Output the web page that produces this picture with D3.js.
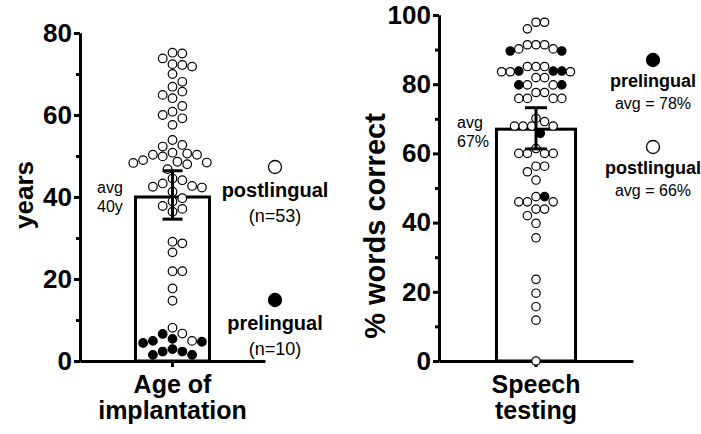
<!DOCTYPE html>
<html>
<head>
<meta charset="utf-8">
<script src="https://cdn.jsdelivr.net/npm/d3@7"></script>
<style>
  body { margin: 0; background: #fff; }
  svg { font-family: "Liberation Sans", Arial, Helvetica, sans-serif; }
  .axis path, .axis line { stroke: #000; stroke-width: 3; }
  .axis text { font-size: 26px; font-weight: bold; fill: #000; }
</style>
</head>
<body>
<div class="chart"></div>
<script>
// ---- data ----
var ageCategory = ["Age of implantation"];
var ageTicks = [0, 20, 40, 60, 80];
var ageMinorTicks = [10, 30, 50, 70];
var agePost = [75.2, 75.0, 73.8, 72.4, 72.2, 71.8, 70.0, 68.1, 66.9, 65.7, 64.9, 64.1, 62.2, 60.8, 60.0, 59.2, 57.6,
    53.9, 52.3, 52.7, 50.8, 50.6, 50.3, 50.3, 49.9, 49.0, 48.4, 48.3, 48.6, 48.0, 46.8,
    43.3, 44.5, 42.7, 44.1, 42.5, 42.3, 41.3, 39.7, 38.9, 37.8, 37.1, 36.4,
    29.1, 28.7, 26.5, 21.9, 21.9, 17.7, 14.7, 8.1, 6.7, 4.9];
var agePre = [6.6, 5.4, 4.4, 4.9, 4.7, 2.9, 2.3, 2.3, 1.5, 1.5];
var ageMean = [40];
var ageErr = [34.6, 46.4];

var speechCategory = ["Speech testing"];
var speechTicks = [0, 20, 40, 60, 80, 100];
var speechMinorTicks = [10, 30, 50, 70, 90];
var speechPost = [97.9, 97.9, 96.0, 90.2, 91.4, 91.4, 91.4, 90.2,
    83.6, 83.6, 83.6, 85.1, 85.1, 85.1, 81.9, 81.9, 79.8, 79.8, 77.6, 77.6,
    75.9, 75.9, 75.9, 75.9, 70.1, 69.2, 67.9, 67.9, 67.9, 67.9,
    60.0, 60.0, 60.0, 60.0, 61.4, 56.3, 56.3, 54.7, 52.3,
    47.5, 46.0, 46.0, 46.0, 43.9, 43.9, 42.0, 39.8,
    35.6, 23.6, 19.6, 15.7, 11.8, 0];
var speechPre = [89.6, 89.6, 83.8, 83.8, 83.8, 79.8, 79.8, 65.8, 47.5];
var speechMean = [67];
var speechErr = [61.3, 73.2];

var width = 701, height = 434;

var svg = d3.select(".chart")
    .append("svg")
    .attr("width", width)
    .attr("height", height);

// simple beeswarm: put each point at the nearest free half-step column
function swarm(post, pre, y, center, minDist) {
    var pts = post.map(v => ({ v: v, pre: false })).concat(pre.map(v => ({ v: v, pre: true })));
    pts.sort((a, b) => b.v - a.v);
    var placed = [];
    var step = minDist / 2;
    pts.forEach(d => {
        var py = y(d.v);
        for (var k = 0; k < 60; k++) {
            var off = k === 0 ? 0 : Math.ceil(k / 2) * step * (k % 2 ? 1 : -1);
            var px = center + off;
            var free = placed.every(p => (p.x - px) * (p.x - px) + (p.y - py) * (p.y - py) >= minDist * minDist - 0.01);
            if (free) { placed.push({ x: px, y: py, pre: d.pre }); break; }
        }
    });
    return placed;
}

function panel(opt) {
    var g = svg.append("g");

    var y = d3.scaleLinear().domain([0, opt.ticks[opt.ticks.length - 1]]).range(opt.yRange);
    var x = d3.scaleBand().domain(opt.category).range(opt.xRange).padding(opt.pad);
    var cx = x(opt.category[0]) + x.bandwidth() / 2;

    // y axis, major and minor ticks
    g.append("g").attr("class", "axis")
        .attr("transform", "translate(" + opt.xRange[0] + ",0)")
        .call(d3.axisLeft(y).tickValues(opt.ticks).tickSize(6).tickSizeOuter(0).tickPadding(2));
    g.append("g").attr("class", "axis")
        .attr("transform", "translate(" + opt.xRange[0] + ",0)")
        .call(d3.axisLeft(y).tickValues(opt.minor).tickSize(4).tickSizeOuter(0).tickFormat(""));

    // x axis
    g.append("g").attr("class", "axis")
        .attr("transform", "translate(0," + y(0) + ")")
        .call(d3.axisBottom(x).tickSize(6).tickSizeOuter(0).tickFormat(""));

    // bar
    g.append("rect")
        .attr("x", x(opt.category[0]))
        .attr("y", y(opt.mean[0]))
        .attr("width", x.bandwidth())
        .attr("height", y(0) - y(opt.mean[0]))
        .attr("fill", "#fff")
        .attr("stroke", "#000")
        .attr("stroke-width", 3);

    // points
    var pts = swarm(opt.post, opt.pre, y, cx, opt.minDist);
    g.selectAll(".dot")
        .data(pts)
        .enter()
        .append("circle")
        .attr("class", "dot")
        .attr("cx", d => d.x)
        .attr("cy", d => d.y)
        .attr("r", opt.r)
        .attr("fill", d => d.pre ? "#000" : "#fff")
        .attr("stroke", "#000")
        .attr("stroke-width", 1.2);

    // error bar
    g.append("line")
        .attr("x1", cx).attr("x2", cx)
        .attr("y1", y(opt.err[0])).attr("y2", y(opt.err[1]))
        .attr("stroke", "#000").attr("stroke-width", 3);
    g.selectAll(".cap")
        .data(opt.err)
        .enter()
        .append("line")
        .attr("class", "cap")
        .attr("x1", cx - opt.cap).attr("x2", cx + opt.cap)
        .attr("y1", d => y(d)).attr("y2", d => y(d))
        .attr("stroke", "#000").attr("stroke-width", 3);

    // axis title
    g.append("text")
        .attr("transform", "translate(" + opt.titleX + "," + opt.titleY + ") rotate(-90)")
        .style("text-anchor", "middle")
        .style("font-weight", "bold")
        .style("font-size", opt.titleSize + "px")
        .text(opt.title);

    // category label on two lines
    g.selectAll(".xlab")
        .data(opt.xLabel)
        .enter()
        .append("text")
        .attr("class", "xlab")
        .attr("x", cx)
        .attr("y", (d, i) => 393 + i * 26)
        .style("text-anchor", "middle")
        .style("font-weight", "bold")
        .style("font-size", "25px")
        .text(d => d);

    // average note
    g.selectAll(".avg")
        .data(opt.avgText)
        .enter()
        .append("text")
        .attr("class", "avg")
        .attr("x", opt.avgX)
        .attr("y", (d, i) => opt.avgY + i * 19)
        .style("font-size", "16px")
        .text(d => d);

    // legend
    opt.legend.forEach(l => {
        g.append("circle")
            .attr("cx", opt.legX).attr("cy", l.y)
            .attr("r", 6.5)
            .attr("fill", l.pre ? "#000" : "#fff")
            .attr("stroke", "#000").attr("stroke-width", 1.3);
        g.append("text")
            .attr("x", opt.legX).attr("y", l.y + opt.legGap)
            .style("text-anchor", "middle")
            .style("font-weight", "bold")
            .style("font-size", opt.legSize + "px")
            .text(l.name);
        g.append("text")
            .attr("x", opt.legX).attr("y", l.y + opt.legGap + opt.legLine)
            .style("text-anchor", "middle")
            .style("font-size", (opt.legSize - 2) + "px")
            .text(l.sub);
    });
}

panel({
    category: ageCategory, ticks: ageTicks, minor: ageMinorTicks,
    post: agePost, pre: agePre, mean: ageMean, err: ageErr,
    yRange: [361, 33], xRange: [80, 265], pad: 0.4286,
    r: 4.3, minDist: 9.8, cap: 10,
    title: "years", titleX: 33, titleY: 195, titleSize: 26,
    xLabel: ["Age of", "implantation"],
    avgText: ["avg", "40y"], avgX: 97, avgY: 193,
    legX: 275, legGap: 30, legLine: 25, legSize: 20,
    legend: [
        { y: 167, pre: false, name: "postlingual", sub: "(n=53)" },
        { y: 300, pre: true, name: "prelingual", sub: "(n=10)" }
    ]
});

panel({
    category: speechCategory, ticks: speechTicks, minor: speechMinorTicks,
    post: speechPost, pre: speechPre, mean: speechMean, err: speechErr,
    yRange: [361, 15], xRange: [439, 633], pad: 0.421,
    r: 4.2, minDist: 8.6, cap: 11,
    title: "% words correct", titleX: 385, titleY: 226, titleSize: 29,
    xLabel: ["Speech", "testing"],
    avgText: ["avg", "67%"], avgX: 457, avgY: 128,
    legX: 653, legGap: 27, legLine: 22, legSize: 18,
    legend: [
        { y: 60, pre: true, name: "prelingual", sub: "avg = 78%" },
        { y: 147, pre: false, name: "postlingual", sub: "avg = 66%" }
    ]
});
</script>
</body>
</html>
